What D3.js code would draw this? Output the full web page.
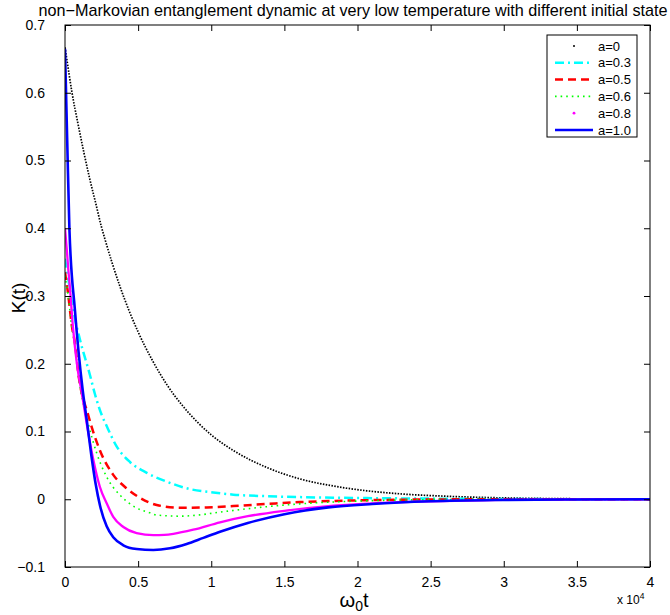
<!DOCTYPE html>
<html>
<head>
<meta charset="utf-8">
<script src="https://cdn.jsdelivr.net/npm/d3@7"></script>
<style>
html,body{margin:0;padding:0;background:#fff;}
svg{display:block;font-family:"Liberation Sans",Arial,Helvetica,sans-serif;}
</style>
</head>
<body>
<svg id="chart" width="670" height="615"></svg>
<script>
// ---- data (t in units of 1e4) ----
const xTicks = [0, 0.5, 1, 1.5, 2, 2.5, 3, 3.5, 4];
const xTickLabels = ["0", "0.5", "1", "1.5", "2", "2.5", "3", "3.5", "4"];
const yTicks = [-0.1, 0, 0.1, 0.2, 0.3, 0.4, 0.5, 0.6, 0.7];
const yTickLabels = ["\u22120.1", "0", "0.1", "0.2", "0.3", "0.4", "0.5", "0.6", "0.7"];
const seriesNames = ["a=0", "a=0.3", "a=0.5", "a=0.6", "a=0.8", "a=1.0"];

const tA0 = [0, 0.012, 0.048, 0.089, 0.13, 0.169, 0.21, 0.248, 0.269, 0.376, 0.5, 0.6, 0.7, 0.8, 0.9, 1.0, 1.151, 1.379, 1.607, 1.835, 2.063, 2.29, 2.6, 3.0, 3.5, 4.0];
const kA0 = [0.667, 0.650, 0.600, 0.554, 0.511, 0.473, 0.437, 0.403, 0.387, 0.314, 0.247, 0.204, 0.168, 0.139, 0.115, 0.095, 0.072, 0.047, 0.030, 0.0195, 0.0125, 0.008, 0.0045, 0.002, 0.0007, 0.0002];

const tA03 = [0, 0.023, 0.06, 0.103, 0.171, 0.205, 0.25, 0.285, 0.353, 0.444, 0.559, 0.695, 0.855, 1.014, 1.151, 1.379, 1.607, 1.835, 2.063, 2.29, 2.6, 3.0, 4.0];
const kA03 = [0.355, 0.324, 0.275, 0.235, 0.183, 0.155, 0.125, 0.108, 0.078, 0.055, 0.039, 0.026, 0.015, 0.010, 0.0068, 0.0045, 0.0032, 0.0023, 0.0017, 0.0013, 0.0008, 0.0003, 0];

const tA05 = [0, 0.023, 0.046, 0.068, 0.091, 0.159, 0.239, 0.33, 0.422, 0.513, 0.627, 0.786, 0.969, 1.151, 1.379, 1.607, 1.835, 2.063, 2.4, 3.0, 4.0];
const kA05 = [0.335, 0.300, 0.257, 0.230, 0.186, 0.124, 0.072, 0.036, 0.016, 0.002, -0.0085, -0.0125, -0.012, -0.010, -0.007, -0.0042, -0.0025, -0.0014, -0.0005, 0, 0];

const tA06 = [0, 0.023, 0.046, 0.068, 0.091, 0.159, 0.217, 0.285, 0.376, 0.433, 0.49, 0.581, 0.627, 0.786, 0.923, 1.06, 1.151, 1.379, 1.607, 1.835, 2.063, 2.5, 3.0, 4.0];
const kA06 = [0.33, 0.298, 0.255, 0.228, 0.184, 0.112, 0.068, 0.033, 0.006, -0.005, -0.013, -0.020, -0.0233, -0.025, -0.023, -0.0190, -0.0165, -0.0110, -0.0068, -0.0040, -0.0023, -0.0006, -0.0001, 0];

const tA08 = [0, 0.012, 0.023, 0.034, 0.05, 0.068, 0.087, 0.114, 0.148, 0.194, 0.239, 0.285, 0.33, 0.399, 0.49, 0.604, 0.68, 0.741, 0.877, 1.06, 1.25, 1.5, 1.8, 2.1, 2.5, 3.0, 3.5, 4.0];
const kA08 = [0.40, 0.369, 0.338, 0.312, 0.265, 0.225, 0.191, 0.158, 0.112, 0.058, 0.018, -0.006, -0.026, -0.041, -0.050, -0.053, -0.0525, -0.051, -0.045, -0.034, -0.025, -0.017, -0.010, -0.006, -0.003, -0.001, -0.0003, 0];

const tA10 = [0, 0.015, 0.03, 0.068, 0.121, 0.15, 0.18, 0.21, 0.24, 0.285, 0.33, 0.399, 0.49, 0.604, 0.718, 0.832, 0.946, 1.06, 1.25, 1.5, 1.8, 2.1, 2.5, 3.0, 3.5, 4.0];
const kA10 = [0.665, 0.53, 0.40, 0.279, 0.161, 0.115, 0.065, 0.022, -0.010, -0.040, -0.056, -0.068, -0.0735, -0.075, -0.0724, -0.066, -0.057, -0.048, -0.035, -0.022, -0.012, -0.007, -0.003, -0.001, -0.0003, 0];

// ---- styles ----
const styles = [
  {t: tA0,  k: kA0,  color: "#000000", width: 1.7, dash: "1.5,1.4"},
  {t: tA03, k: kA03, color: "#00FFFF", width: 2.5, dash: "9,4,2,4"},
  {t: tA05, k: kA05, color: "#FF0000", width: 2.5, dash: "8,5"},
  {t: tA06, k: kA06, color: "#00FF00", width: 1.6, dash: "1.6,4"},
  {t: tA08, k: kA08, color: "#FF00FF", width: 2.3, dash: null},
  {t: tA10, k: kA10, color: "#0000FF", width: 2.6, dash: null}
];

const svg = d3.select("#chart");
const L = 65, R = 650, T = 25, B = 567;
const x = d3.scaleLinear().domain([0, 4]).range([L, R]);
const y = d3.scaleLinear().domain([-0.1, 0.7]).range([B, T]);

svg.append("defs").append("clipPath").attr("id", "clip")
  .append("rect").attr("x", L).attr("y", T).attr("width", R - L).attr("height", B - T);

// lines
const line = d3.line().x(d => x(d[0])).y(d => y(d[1])).curve(d3.curveMonotoneX);
const g = svg.append("g").attr("clip-path", "url(#clip)");
styles.forEach(s => {
  const pts = s.t.map((t, i) => [t, s.k[i]]);
  const p = g.append("path").datum(pts)
    .attr("d", line)
    .attr("fill", "none")
    .attr("stroke", s.color)
    .attr("stroke-width", s.width)
    .attr("stroke-linejoin", "round");
  if (s.dash) p.attr("stroke-dasharray", s.dash);
});

// axes box
const tickLen = 6;
svg.append("rect").attr("x", L).attr("y", T).attr("width", R - L).attr("height", B - T)
  .attr("fill", "none").attr("stroke", "#000").attr("stroke-width", 1);

const axB = d3.axisBottom(x).tickValues(xTicks).tickSizeInner(-tickLen).tickSizeOuter(0)
  .tickPadding(10).tickFormat((d, i) => xTickLabels[i]);
const axT = d3.axisTop(x).tickValues(xTicks).tickSizeInner(-tickLen).tickSizeOuter(0).tickFormat("");
const axLft = d3.axisLeft(y).tickValues(yTicks).tickSizeInner(-tickLen).tickSizeOuter(0)
  .tickPadding(20).tickFormat((d, i) => yTickLabels[i]);
const axRgt = d3.axisRight(y).tickValues(yTicks).tickSizeInner(-tickLen).tickSizeOuter(0).tickFormat("");

function styleAxis(sel) {
  sel.select(".domain").remove();
  sel.selectAll("line").attr("stroke", "#000");
  sel.selectAll("text").attr("fill", "#000").style("font-size", "14px")
    .style("font-family", "'Liberation Sans', Arial, sans-serif");
}
svg.append("g").attr("transform", `translate(0,${B})`).call(axB).call(styleAxis);
svg.append("g").attr("transform", `translate(0,${T})`).call(axT).call(styleAxis);
svg.append("g").attr("transform", `translate(${L},0)`).call(axLft).call(styleAxis);
svg.append("g").attr("transform", `translate(${R},0)`).call(axRgt).call(styleAxis);

// title
svg.append("text").attr("x", 353).attr("y", 16).attr("text-anchor", "middle")
  .style("font-size", "16.2px").text("non\u2212Markovian entanglement dynamic at very low temperature with different initial state");

// x label
const xl = svg.append("text").attr("x", 354).attr("y", 607).attr("text-anchor", "middle")
  .style("font-size", "20px");
xl.append("tspan").text("\u03c9");
xl.append("tspan").attr("dy", 4).style("font-size", "14px").text("0");
xl.append("tspan").attr("dy", -4).text("t");

// exponent label
const ex = svg.append("text").attr("x", 617).attr("y", 604).style("font-size", "12px");
ex.append("tspan").text("x 10");
ex.append("tspan").attr("dy", -5).style("font-size", "8.5px").text("4");

// y label
svg.append("text").attr("transform", "translate(25,298) rotate(-90)").attr("text-anchor", "middle")
  .style("font-size", "19px").text("K(t)");

// legend
const lg = svg.append("g");
lg.append("rect").attr("x", 547).attr("y", 35).attr("width", 90).attr("height", 102)
  .attr("fill", "#fff").attr("stroke", "#000").attr("stroke-width", 1);
styles.forEach((s, i) => {
  const yy = 46 + i * 16.8;
  if (i === 0 || i === 4) {
    lg.append("circle").attr("cx", 574).attr("cy", yy).attr("r", i === 0 ? 1 : 1.4).attr("fill", s.color);
  } else {
    const l = lg.append("line").attr("x1", 555).attr("x2", 593).attr("y1", yy).attr("y2", yy)
      .attr("stroke", s.color).attr("stroke-width", s.width);
    if (s.dash) l.attr("stroke-dasharray", s.dash);
  }
  lg.append("text").attr("x", 598).attr("y", yy + 4.5).style("font-size", "13px").text(seriesNames[i]);
});
</script>
</body>
</html>
